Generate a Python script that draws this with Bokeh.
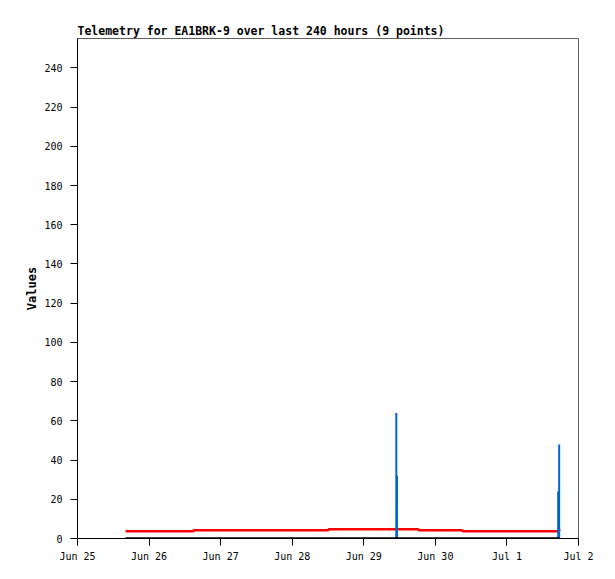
import pandas as pd
from bokeh.plotting import figure
from bokeh.models import Range1d, FixedTicker, DatetimeTickFormatter, DaysTicker
from bokeh.embed import file_html
from bokeh.resources import INLINE

# ---- data ----
times = ["2024-06-25 16:06", "2024-06-26 14:54", "2024-06-28 12:10",
         "2024-06-29 10:54", "2024-06-29 11:08", "2024-06-29 18:21",
         "2024-06-30 09:06", "2024-07-01 17:11", "2024-07-01 17:31"]
red_values = [3.7, 4.2, 4.7, 4.7, 4.7, 4.2, 3.7, 3.7, 4.9]
black_values = [0, 0, 0, 0, 0, 0, 0, 0, 0]
blue_values = [0, 0, 0, 64, 32, 0, 0, 24, 48]
y_ticks = [0, 20, 40, 60, 80, 100, 120, 140, 160, 180, 200, 220, 240]
x_start = "2024-06-25 00:00"
x_end = "2024-07-02 00:00"
title_text = "Telemetry for EA1BRK-9 over last 240 hours (9 points)"

t = pd.to_datetime(times)

p = figure(width=607, height=571, x_axis_type="datetime",
           x_range=Range1d(pd.Timestamp(x_start), pd.Timestamp(x_end)),
           y_range=Range1d(0, 255),
           output_backend="svg", toolbar_location=None,
           min_border_left=77, min_border_right=29,
           min_border_top=38, min_border_bottom=33,
           title=title_text)

p.title.text_font = "DejaVu Sans Mono"
p.title.text_font_size = "11.5px"
p.title.text_font_style = "bold"
p.title.text_color = "black"
p.title.align = "left"
p.title.offset = 0
p.title.standoff = 2

p.xgrid.visible = False
p.ygrid.visible = False
p.background_fill_color = "white"
p.border_fill_color = "white"
p.outline_line_color = "#606060"
p.outline_line_width = 1

for ax in (p.xaxis[0], p.yaxis[0]):
    ax.axis_line_color = "black"
    ax.axis_line_width = 1
    ax.major_tick_line_color = "black"
    ax.major_tick_out = 7
    ax.major_tick_in = 0
    ax.minor_tick_out = 0
    ax.minor_tick_in = 0
    ax.major_label_text_font = "DejaVu Sans Mono"
    ax.major_label_text_font_size = "10px"
    ax.major_label_text_color = "black"

p.xaxis.ticker = DaysTicker(days=list(range(1, 32)))
p.xaxis.formatter = DatetimeTickFormatter(days="%b %-d", months="%b %-d")
p.xaxis.major_label_standoff = 5

p.yaxis.ticker = FixedTicker(ticks=y_ticks)
p.yaxis.major_label_standoff = 8
p.yaxis.axis_label = "Values"
p.yaxis.axis_label_text_font = "DejaVu Sans Mono"
p.yaxis.axis_label_text_font_size = "12px"
p.yaxis.axis_label_text_font_style = "bold"
p.yaxis.axis_label_text_color = "black"
p.yaxis.axis_label_standoff = 2

p.step(t, red_values, mode="after", line_color="#ff0000", line_width=2.5)
p.segment(x0=t, y0=[0] * len(t), x1=t, y1=blue_values, line_color="#0066cc", line_width=2)
p.step(t, black_values, mode="after", line_color="black", line_width=2.5)

open("out.html", "w").write(file_html(p, INLINE))
